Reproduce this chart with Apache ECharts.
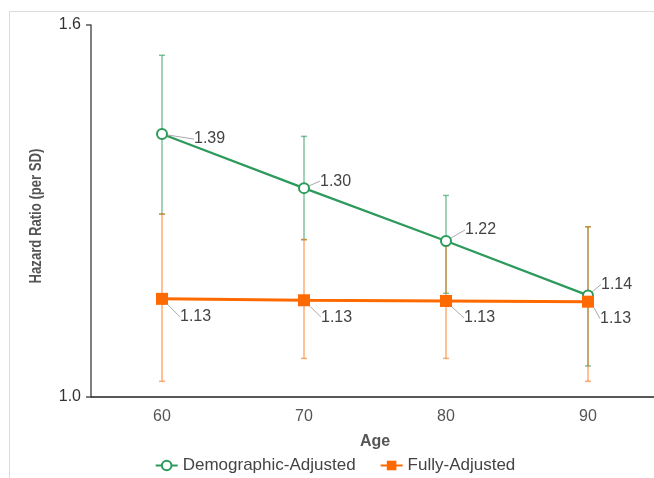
<!DOCTYPE html>
<html>
<head>
<meta charset="utf-8">
<script src="https://cdn.jsdelivr.net/npm/echarts@6/dist/echarts.min.js"></script>
<style>
  html, body { margin: 0; padding: 0; overflow: hidden; background: #fff; width: 654px; height: 478px; }
  #frame { position: absolute; left: 9px; top: 11px; width: 700px; height: 520px; border: 1px solid #dcdcdc; box-sizing: border-box; }
  #chart { position: absolute; left: 0; top: 0; width: 670px; height: 478px; }
</style>
</head>
<body>
<div id="frame"></div>
<div id="chart"></div>
<script>
const ages = ['60', '70', '80', '90'];
const demoHR = [1.394, 1.302, 1.218, 1.137];
const demoLower = [1.26, 1.22, 1.14, 1.04];
const demoUpper = [1.54, 1.39, 1.29, 1.24];
const fullHR = [1.132, 1.130, 1.129, 1.128];
const fullLower = [1.02, 1.05, 1.05, 1.02];
const fullUpper = [1.26, 1.22, 1.21, 1.24];
const yTicks = [1.0, 1.6];
const yTitle = 'Hazard Ratio (per SD)';

const green = '#2c9a5b';
const orange = '#ff6a00';

function errData(lo, hi) {
  return ages.map((a, i) => [i, lo[i], hi[i]]);
}
function errRender(color) {
  return function (params, api) {
    const x = api.value(0);
    const pLo = api.coord([x, api.value(1)]);
    const pHi = api.coord([x, api.value(2)]);
    const cap = 3;
    const style = { stroke: color, lineWidth: 1.5, fill: 'none' };
    return {
      type: 'group',
      children: [
        { type: 'line', shape: { x1: pLo[0], y1: pLo[1], x2: pHi[0], y2: pHi[1] }, style: style },
        { type: 'line', shape: { x1: pLo[0] - cap, y1: pLo[1], x2: pLo[0] + cap, y2: pLo[1] }, style: style },
        { type: 'line', shape: { x1: pHi[0] - cap, y1: pHi[1], x2: pHi[0] + cap, y2: pHi[1] }, style: style }
      ]
    };
  };
}

const demoOffsets = [[21, 5], [5, -7], [8, -11], [2, -11]];
const fullOffsets = [[7, 18], [6, 17], [7, 17], [1, 17]];

const chart = echarts.init(document.getElementById('chart'), null, { renderer: 'canvas' });
chart.setOption({
  animation: false,
  textStyle: { fontFamily: 'Liberation Sans, Arial, sans-serif' },
  grid: { left: 91, top: 25, width: 568, height: 372, containLabel: false },
  graphic: [{
    type: 'text',
    x: 37,
    y: 216,
    rotation: Math.PI / 2,
    scaleX: 0.82,
    style: {
      text: yTitle,
      font: 'bold 16px "Liberation Sans", Arial, sans-serif',
      fill: '#555',
      align: 'center',
      verticalAlign: 'middle',
      textAlign: 'center',
      textVerticalAlign: 'middle'
    }
  }],
  legend: {
    top: 452,
    left: 'center',
    itemGap: 24,
    itemWidth: 22,
    itemHeight: 12,
    textStyle: { fontSize: 17, color: '#444' },
    data: ['Demographic-Adjusted', 'Fully-Adjusted']
  },
  xAxis: {
    type: 'category',
    data: ages,
    boundaryGap: true,
    name: 'Age',
    nameLocation: 'middle',
    nameGap: 37,
    nameTextStyle: { fontSize: 16, fontWeight: 'bold', color: '#555' },
    axisLine: { show: true, lineStyle: { color: '#222', width: 1.5 } },
    axisTick: { show: false },
    axisLabel: { fontSize: 16, color: '#555', margin: 12 },
    splitLine: { show: false }
  },
  yAxis: {
    type: 'log',
    logBase: 1.6,
    min: yTicks[0],
    max: yTicks[1],
    interval: 1,
    axisLine: { show: true, lineStyle: { color: '#555', width: 1.5 } },
    axisTick: { show: true, length: 5, lineStyle: { color: '#555', width: 1.5 } },
    minorTick: { show: false },
    axisLabel: { fontSize: 16, color: '#333', margin: 10, formatter: v => Number(v).toFixed(1) },
    splitLine: { show: false }
  },
  series: [
    {
      name: 'Demographic-Adjusted CI',
      type: 'custom',
      renderItem: errRender('rgba(44,154,91,0.6)'),
      data: errData(demoLower, demoUpper),
      z: 1,
      silent: true
    },
    {
      name: 'Fully-Adjusted CI',
      type: 'custom',
      renderItem: errRender('rgba(255,106,0,0.55)'),
      data: errData(fullLower, fullUpper),
      z: 1,
      silent: true
    },
    {
      name: 'Demographic-Adjusted',
      type: 'line',
      data: demoHR,
      z: 3,
      color: green,
      symbol: 'emptyCircle',
      symbolSize: 10,
      lineStyle: { color: green, width: 2.2 },
      itemStyle: { color: green, borderWidth: 2 },
      label: {
        show: true, position: 'right', fontSize: 16, color: '#444',
        formatter: p => p.value.toFixed(2)
      },
      labelLine: { show: true, lineStyle: { color: '#aaa', width: 1 } },
      labelLayout: p => ({ dx: demoOffsets[p.dataIndex][0], dy: demoOffsets[p.dataIndex][1] })
    },
    {
      name: 'Fully-Adjusted',
      type: 'line',
      data: fullHR,
      z: 4,
      color: orange,
      symbol: 'rect',
      symbolSize: 12,
      lineStyle: { color: orange, width: 3 },
      itemStyle: { color: orange },
      label: {
        show: true, position: 'right', fontSize: 16, color: '#444',
        formatter: p => p.value.toFixed(2)
      },
      labelLine: { show: true, lineStyle: { color: '#aaa', width: 1 } },
      labelLayout: p => ({ dx: fullOffsets[p.dataIndex][0], dy: fullOffsets[p.dataIndex][1] })
    }
  ]
});
</script>
</body>
</html>
